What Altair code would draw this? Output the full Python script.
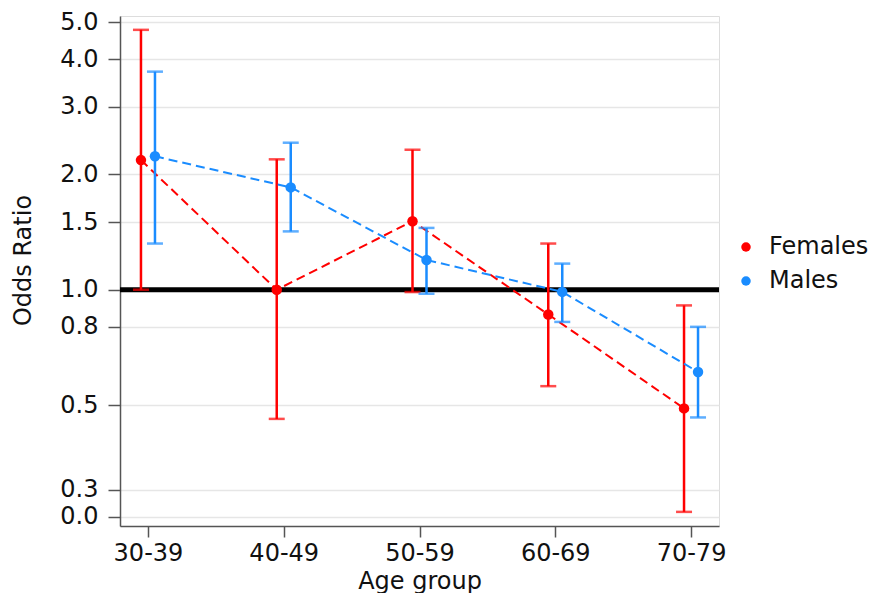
import altair as alt
import pandas as pd

# ---- data ----
ages = ["30-39", "40-49", "50-59", "60-69", "70-79"]
sexes = ["Females", "Males"]

fem_or = [2.18, 1.00, 1.51, 0.862, 0.49]
fem_lo = [1.00, 0.46, 0.986, 0.56, 0.263]
fem_hi = [4.77, 2.19, 2.32, 1.32, 0.91]

male_or = [2.23, 1.85, 1.196, 0.987, 0.61]
male_lo = [1.32, 1.42, 0.976, 0.824, 0.464]
male_hi = [3.71, 2.42, 1.45, 1.17, 0.80]

ytick_values = [0.2553, 0.3, 0.5, 0.8, 1.0, 1.5, 2.0, 3.0, 4.0, 5.0]
ytick_labels = ["0.0", "0.3", "0.5", "0.8", "1.0", "1.5", "2.0", "3.0", "4.0", "5.0"]
ref_value = [1.0]

colors = ["#ff0000", "#1a8cff"]
FONT = "DejaVu Sans"
FS = 24
TXT = "#111111"

rows = []
for sex, ors, los, his in [("Females", fem_or, fem_lo, fem_hi), ("Males", male_or, male_lo, male_hi)]:
    for a, o, l, h in zip(ages, ors, los, his):
        rows.append({"age": a, "sex": sex, "or": o, "lo": l, "hi": h})
df = pd.DataFrame(rows)
ref_df = pd.DataFrame({"v": ref_value})

label_expr = " : ".join(
    [f"abs(datum.value - {v}) < 0.001 ? '{s}'" for v, s in zip(ytick_values, ytick_labels)]
) + " : ''"

yscale = alt.Scale(type="log", domain=[0.2416, 5.184], nice=False, zero=False)
xscale = alt.Scale(type="point", padding=0.206, domain=ages)
cscale = alt.Scale(domain=sexes, range=colors)

x_enc = alt.X(
    "age:N", scale=xscale, sort=ages,
    axis=alt.Axis(
        title="Age group", labelAngle=0, labelFontSize=FS, titleFontSize=FS,
        labelFont=FONT, titleFont=FONT, labelColor=TXT, titleColor=TXT,
        titleFontWeight="normal", tickSize=11, labelPadding=4, tickWidth=1.5,
        tickColor="#555", domainColor="#555", domainWidth=1.5, grid=False,
        titleBaseline="alphabetic", titleY=62, labelOverlap=False,
    ),
)

y_axis = alt.Axis(
    title="Odds Ratio", values=ytick_values, labelExpr=label_expr,
    labelFontSize=FS, titleFontSize=FS, labelFont=FONT, titleFont=FONT,
    labelColor=TXT, titleColor=TXT, titleFontWeight="normal",
    tickSize=12, labelPadding=10, tickWidth=1.5, tickColor="#555",
    domainColor="#555", domainWidth=1.5, grid=True, gridColor="#e6e6e6",
    gridWidth=1.5, titleAngle=270, titleAlign="center", titleBaseline="alphabetic",
    titleX=-90, titleY=244, labelOverlap=False,
)

ref = alt.Chart(ref_df).mark_rule(color="black", strokeWidth=5).encode(
    y=alt.Y("v:Q", scale=yscale, axis=y_axis)
)

layers = [ref]
for sex, col, d in [("Females", colors[0], -7), ("Males", colors[1], 7)]:
    base = alt.Chart(df).transform_filter(alt.datum.sex == sex)
    line = base.mark_line(color=col, strokeDash=[9, 5], strokeWidth=2, xOffset=d).encode(
        x=x_enc, y=alt.Y("or:Q", scale=yscale), order=alt.Order("age:N")
    )
    bar = base.mark_rule(color=col, strokeWidth=2.5, xOffset=d).encode(
        x=x_enc, y=alt.Y("lo:Q", scale=yscale), y2="hi:Q"
    )
    cap_lo = base.mark_tick(color=col, size=16, thickness=2.5, xOffset=d).encode(
        x=x_enc, y=alt.Y("lo:Q", scale=yscale)
    )
    cap_hi = base.mark_tick(color=col, size=16, thickness=2.5, xOffset=d).encode(
        x=x_enc, y=alt.Y("hi:Q", scale=yscale)
    )
    pts = base.mark_circle(size=110, opacity=1, xOffset=d).encode(
        x=x_enc, y=alt.Y("or:Q", scale=yscale),
        color=alt.Color(
            "sex:N", scale=cscale,
            legend=alt.Legend(
                title=None, orient="none", legendX=614, legendY=219,
                labelFontSize=FS, labelFont=FONT, labelColor=TXT,
                symbolSize=90, symbolType="circle", labelOffset=11,
                rowPadding=10, padding=0,
            ),
        ),
    )
    layers += [line, bar, cap_lo, cap_hi, pts]

chart = alt.layer(*layers).properties(
    width=599, height=510,
    autosize=alt.AutoSizeParams(type="none"),
    padding={"left": 112, "top": 8, "right": 169, "bottom": 72},
).configure_view(stroke=None).configure(background="white")

chart.save("out.html", embed_options={"renderer": "svg", "actions": False})
